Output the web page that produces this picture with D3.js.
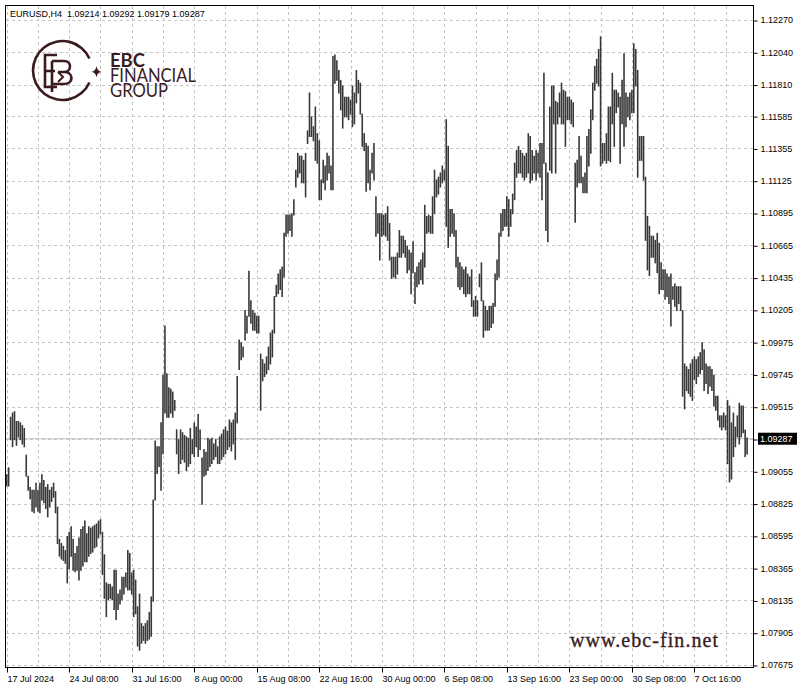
<!DOCTYPE html>
<html>
<head>
<meta charset="utf-8">
<script src="https://cdn.jsdelivr.net/npm/d3@7"></script>
<style>
  html, body { margin: 0; padding: 0; background: #fff; }
  svg { display: block; }
</style>
</head>
<body>
<svg id="chart" width="800" height="688"></svg>
<script>
// ---------------- DATA ----------------
const symbolTitle = "EURUSD,H4";
const lastOHLC = ["1.09214", "1.09292", "1.09179", "1.09287"];
const lastPrice = 1.09287;

const timeLabels = ["17 Jul 2024", "24 Jul 08:00", "31 Jul 16:00", "8 Aug 00:00", "15 Aug 08:00",
  "22 Aug 16:00", "30 Aug 00:00", "6 Sep 08:00", "13 Sep 16:00", "23 Sep 00:00", "30 Sep 08:00", "7 Oct 16:00"];
const timeLabelBars = [0, 32, 64, 96, 128, 160, 192, 224, 256, 288, 320, 352];

const priceTicks = [1.12270, 1.12040, 1.11810, 1.11585, 1.11355, 1.11125, 1.10895, 1.10665, 1.10435,
  1.10205, 1.09975, 1.09745, 1.09515, 1.09285, 1.09055, 1.08825, 1.08595, 1.08365, 1.08135, 1.07905, 1.07675];

const logoLines = ["EBC", "FINANCIAL", "GROUP"];
const watermark = "www.ebc-fin.net";

// H4 bar highs and lows (one per bar, left to right)
const highs = [
1.0903,1.0908,1.0944,1.0947,1.0948,1.0941,1.0941,1.0940,1.0938,1.0936,
1.0917,1.0902,1.0894,1.0892,1.0892,1.0897,1.0892,1.0897,1.0903,1.0899,
1.0894,1.0896,1.0892,1.0894,1.0897,1.0891,1.0880,1.0857,1.0854,1.0852,
1.0849,1.0859,1.0862,1.0866,1.0857,1.0847,1.0852,1.0858,1.0864,1.0866,
1.0870,1.0861,1.0866,1.0865,1.0866,1.0867,1.0868,1.0870,1.0871,1.0862,
1.0846,1.0826,1.0825,1.0825,1.0823,1.0835,1.0835,1.0818,1.0821,1.0830,
1.0830,1.0833,1.0849,1.0847,1.0833,1.0835,1.0828,1.0809,1.0818,1.0797,
1.0795,1.0797,1.0799,1.0805,1.0816,1.0885,1.0927,1.0923,1.0923,1.0940,
1.0974,1.1009,1.0975,1.0965,1.0964,1.0962,1.0956,1.0935,1.0928,1.0935,
1.0933,1.0931,1.0930,1.0929,1.0936,1.0928,1.0940,1.0937,1.0946,1.0935,
1.0915,1.0921,1.0919,1.0929,1.0928,1.0929,1.0925,1.0928,1.0923,1.0930,
1.0932,1.0935,1.0937,1.0934,1.0942,1.0940,1.0942,1.0947,1.0973,1.0999,
1.0997,1.0994,1.1020,1.1016,1.1048,1.1027,1.1020,1.1018,1.1016,1.1016,
1.0989,1.0985,1.0982,1.0987,1.0994,1.1004,1.1006,1.1030,1.1038,1.1046,
1.1049,1.1051,1.1075,1.1088,1.1088,1.1088,1.1089,1.1099,1.1120,1.1132,
1.1130,1.1130,1.1127,1.1132,1.1148,1.1175,1.1158,1.1151,1.1165,1.1146,
1.1141,1.1113,1.1127,1.1123,1.1132,1.1130,1.1123,1.1201,1.1202,1.1198,
1.1191,1.1184,1.1180,1.1172,1.1172,1.1172,1.1170,1.1180,1.1175,1.1191,
1.1184,1.1182,1.1160,1.1146,1.1139,1.1137,1.1120,1.1132,1.1139,1.1101,
1.1089,1.1089,1.1089,1.1088,1.1089,1.1094,1.1082,1.1058,1.1058,1.1058,
1.1061,1.1077,1.1073,1.1073,1.1070,1.1066,1.1063,1.1061,1.1069,1.1047,
1.1051,1.1054,1.1056,1.1061,1.1095,1.1087,1.1088,1.1087,1.1101,1.1120,
1.1113,1.1115,1.1118,1.1123,1.1120,1.1156,1.1137,1.1092,1.1092,1.1089,
1.1077,1.1058,1.1054,1.1051,1.1049,1.1051,1.1046,1.1044,1.1049,1.1027,
1.1030,1.1027,1.1046,1.1054,1.1027,1.1023,1.1020,1.1023,1.1023,1.1025,
1.1046,1.1056,1.1075,1.1089,1.1092,1.1092,1.1101,1.1099,1.1092,1.1103,
1.1125,1.1134,1.1137,1.1134,1.1132,1.1130,1.1132,1.1146,1.1144,1.1134,
1.1130,1.1134,1.1132,1.1139,1.1139,1.1189,1.1125,1.1118,1.1165,1.1180,
1.1180,1.1169,1.1168,1.1175,1.1182,1.1177,1.1176,1.1172,1.1172,1.1170,
1.1168,1.1125,1.1127,1.1144,1.1130,1.1115,1.1118,1.1144,1.1149,1.1163,
1.1182,1.1194,1.1199,1.1206,1.1215,1.1139,1.1139,1.1146,1.1165,1.1165,
1.1189,1.1177,1.1177,1.1175,1.1172,1.1184,1.1203,1.1175,1.1172,1.1175,
1.1177,1.1210,1.1206,1.1191,1.1144,1.1144,1.1144,1.1115,1.1087,1.1080,
1.1073,1.1073,1.1070,1.1075,1.1068,1.1054,1.1049,1.1049,1.1046,1.1044,
1.1046,1.1037,1.1039,1.1037,1.1037,1.1037,1.1020,1.0982,1.0980,1.0978,
1.0982,1.0985,1.0987,1.0985,1.0987,1.0990,1.0997,1.0992,1.0982,1.0980,
1.0980,1.0978,1.0974,1.0959,1.0959,1.0945,1.0945,1.0947,1.0945,1.0956,
1.0952,1.0940,1.0947,1.0937,1.0945,1.0954,1.0952,1.0952,1.0935,1.09292
];
const lows = [
1.0895,1.0895,1.0928,1.0923,1.0928,1.0924,1.0930,1.0928,1.0925,1.0923,
1.0902,1.0892,1.0886,1.0877,1.0876,1.0880,1.0877,1.0876,1.0885,1.0883,
1.0879,1.0873,1.0880,1.0884,1.0887,1.0876,1.0854,1.0845,1.0843,1.0842,
1.0840,1.0826,1.0836,1.0845,1.0835,1.0834,1.0835,1.0828,1.0835,1.0838,
1.0841,1.0841,1.0845,1.0847,1.0848,1.0851,1.0852,1.0858,1.0861,1.0832,
1.0815,1.0802,1.0814,1.0815,1.0814,1.0807,1.0800,1.0807,1.0811,1.0814,
1.0818,1.0823,1.0821,1.0821,1.0818,1.0802,1.0804,1.0781,1.0778,1.0783,
1.0785,1.0783,1.0785,1.0786,1.0788,1.0813,1.0885,1.0904,1.0909,1.0892,
1.0918,1.0947,1.0944,1.0944,1.0947,1.0944,1.0949,1.0918,1.0904,1.0911,
1.0914,1.0912,1.0906,1.0909,1.0911,1.0918,1.0916,1.0923,1.0916,1.0921,
1.0882,1.0902,1.0903,1.0906,1.0909,1.0911,1.0914,1.0916,1.0911,1.0911,
1.0914,1.0916,1.0918,1.0921,1.0923,1.0920,1.0925,1.0914,1.0940,1.0978,
1.0985,1.0987,1.0999,1.1004,1.1016,1.1011,1.1006,1.1006,1.1004,1.1004,
1.0949,1.0970,1.0973,1.0975,1.0978,1.0982,1.0987,1.1004,1.1030,1.1032,
1.1035,1.1030,1.1044,1.1073,1.1075,1.1077,1.1073,1.1088,1.1108,1.1115,
1.1118,1.1111,1.1111,1.1101,1.1139,1.1144,1.1144,1.1141,1.1127,1.1125,
1.1099,1.1099,1.1111,1.1106,1.1113,1.1118,1.1106,1.1106,1.1182,1.1184,
1.1175,1.1163,1.1150,1.1158,1.1158,1.1156,1.1160,1.1151,1.1153,1.1168,
1.1175,1.1160,1.1137,1.1134,1.1105,1.1111,1.1106,1.1118,1.1113,1.1073,
1.1075,1.1056,1.1073,1.1074,1.1073,1.1070,1.1056,1.1043,1.1044,1.1043,
1.1046,1.1058,1.1058,1.1061,1.1058,1.1047,1.1049,1.1032,1.1047,1.1025,
1.1037,1.1039,1.1042,1.1039,1.1051,1.1075,1.1076,1.1075,1.1075,1.1089,
1.1101,1.1103,1.1108,1.1111,1.1113,1.1080,1.1065,1.1073,1.1075,1.1073,
1.1051,1.1037,1.1035,1.1037,1.1032,1.1030,1.1032,1.1032,1.1023,1.1016,
1.1016,1.1016,1.1037,1.1027,1.1001,1.1006,1.1006,1.1006,1.1008,1.1011,
1.1023,1.1042,1.1044,1.1073,1.1077,1.1080,1.1080,1.1073,1.1080,1.1089,
1.1099,1.1115,1.1118,1.1118,1.1115,1.1113,1.1115,1.1118,1.1111,1.1113,
1.1118,1.1113,1.1118,1.1115,1.1099,1.1125,1.1077,1.1069,1.1120,1.1118,
1.1153,1.1118,1.1153,1.1158,1.1153,1.1153,1.1137,1.1156,1.1156,1.1153,
1.1151,1.1083,1.1108,1.1111,1.1111,1.1104,1.1104,1.1104,1.1123,1.1132,
1.1156,1.1177,1.1182,1.1180,1.1123,1.1125,1.1127,1.1125,1.1127,1.1126,
1.1153,1.1137,1.1161,1.1165,1.1125,1.1153,1.1137,1.1151,1.1158,1.1156,
1.1161,1.1161,1.1180,1.1115,1.1127,1.1127,1.1113,1.1070,1.1049,1.1045,
1.1058,1.1058,1.1054,1.1047,1.1032,1.1035,1.1035,1.1028,1.1030,1.1025,
1.1009,1.1028,1.1023,1.1020,1.1025,1.1020,1.0959,1.0950,1.0963,1.0961,
1.0959,1.0956,1.0971,1.0968,1.0973,1.0975,1.0978,1.0963,1.0968,1.0961,
1.0966,1.0963,1.0952,1.0949,1.0942,1.0937,1.0935,1.0937,1.0935,1.0911,
1.0898,1.0900,1.0916,1.0923,1.0930,1.0925,1.0930,1.0933,1.0916,1.09179
];

// ---------------- LAYOUT ----------------
const frame = { left: 5, top: 5, right: 753, bottom: 667 };
const ink = "#000";
const brand = "#3b1c1e";
const sans = "'Liberation Sans', Arial, sans-serif";

const svg = d3.select("#chart");
svg.append("rect").attr("width", 800).attr("height", 688).attr("fill", "#fff");

const x = d3.scaleLinear().domain([0, highs.length - 1]).range([6.7, 747.1]);
const y = d3.scaleLinear().domain([1.07675, 1.12270]).range([665, 20]);

// grid
const grid = svg.append("g").attr("stroke", "#c6c6c6").attr("stroke-dasharray", "3,3").attr("stroke-width", 1);
grid.selectAll("line.h").data(priceTicks).join("line")
  .attr("x1", frame.left + 1).attr("x2", frame.right)
  .attr("y1", d => Math.round(y(d)) + 0.5).attr("y2", d => Math.round(y(d)) + 0.5);
const vBars = d3.range(0, highs.length, 16);
grid.selectAll("line.v").data(vBars).join("line")
  .attr("y1", frame.top + 1).attr("y2", frame.bottom)
  .attr("x1", d => Math.round(x(d)) + 0.5).attr("x2", d => Math.round(x(d)) + 0.5);

// current price line
svg.append("line")
  .attr("x1", frame.left + 1).attr("x2", frame.right)
  .attr("y1", y(lastPrice)).attr("y2", y(lastPrice))
  .attr("stroke", "#c0c0c0").attr("stroke-width", 1);

// ---------------- LOGO ----------------
const logo = svg.append("g").attr("fill", "none").attr("stroke", brand).attr("stroke-width", 2.6);
const cx = 62.5, cy = 70.5, r = 29.5;
const arc = d3.arc().innerRadius(r - 1.3).outerRadius(r + 1.3)
  .startAngle(Math.PI / 2 + 0.42).endAngle(Math.PI / 2 + 2 * Math.PI - 0.42);
svg.append("path").attr("d", arc()).attr("transform", `translate(${cx},${cy})`).attr("fill", brand);
logo.append("path").attr("d", "M57,55 H45 V87 H57 M45,71 H55");
logo.append("path").attr("d", "M52,61 V92 M52,61 H64 C72,61 72,72 64,72 H58 M64,72 C74,72 74,84 64,84 H52");
logo.append("path").attr("d", "M58,72 L63,77 L58,82").attr("stroke-width", 2);
svg.append("path")
  .attr("d", "M96.5,66 Q97.2,71 101.5,71.8 Q97.2,72.6 96.5,77.6 Q95.8,72.6 91.5,71.8 Q95.8,71 96.5,66 Z")
  .attr("fill", brand);
const logoText = svg.append("text").attr("fill", brand)
  .style("font-family", "Lato, 'Open Sans', sans-serif").style("font-size", "18.5px");
const logoWidths = [35, 86, 58];
logoText.selectAll("tspan").data(logoLines).join("tspan")
  .attr("x", 110).attr("y", (d, i) => 66.7 + i * 15)
  .style("font-weight", (d, i) => i === 0 ? 700 : 400)
  .attr("textLength", (d, i) => logoWidths[i]).attr("lengthAdjust", "spacingAndGlyphs")
  .text(d => d);

// ---------------- BARS ----------------
const bars = highs.map((h, i) => ({ i, h, l: lows[i] }));
svg.append("g").selectAll("line").data(bars).join("line")
  .attr("x1", d => x(d.i)).attr("x2", d => x(d.i))
  .attr("y1", d => y(d.h) - 0.5).attr("y2", d => Math.max(y(d.l), y(d.h) + 1) + 0.5)
  .attr("stroke", "#383838").attr("stroke-width", 1.6);

// watermark
svg.append("text").attr("x", 570).attr("y", 647).text(watermark)
  .style("font-family", "'Liberation Serif', 'Times New Roman', serif")
  .style("font-size", "20px").attr("fill", brand)
  .attr("stroke", brand).attr("stroke-width", 0.35)
  .attr("textLength", 148).attr("lengthAdjust", "spacing");

// ---------------- FRAME & AXES ----------------
svg.append("rect")
  .attr("x", frame.left + 0.5).attr("y", frame.top + 0.5)
  .attr("width", frame.right - frame.left).attr("height", frame.bottom - frame.top)
  .attr("fill", "none").attr("stroke", ink).attr("stroke-width", 1);

const yAxis = d3.axisRight(y).tickValues(priceTicks).tickSize(4).tickPadding(3)
  .tickFormat(d => Math.abs(d - 1.09285) < 1e-7 ? "" : d.toFixed(5));
const gy = svg.append("g").attr("transform", `translate(${frame.right + 0.5},0)`).call(yAxis);
gy.select(".domain").remove();
gy.selectAll(".tick line").attr("stroke", ink).attr("transform", "translate(0,0.5)");
gy.selectAll(".tick text").attr("fill", ink)
  .style("font-family", sans).style("font-size", "9px");

const xAxis = d3.axisBottom(x).tickValues(timeLabelBars).tickSize(5).tickPadding(3)
  .tickFormat((d, i) => timeLabels[i]);
const gx = svg.append("g").attr("transform", `translate(0,${frame.bottom + 0.5})`).call(xAxis);
gx.select(".domain").remove();
gx.selectAll(".tick").attr("transform", d => `translate(${Math.round(x(d)) + 0.5},0)`);
gx.selectAll(".tick line").attr("stroke", ink);
gx.selectAll(".tick text").attr("fill", ink).attr("text-anchor", "start").attr("x", 0)
  .style("font-family", sans).style("font-size", "9px");

// current price tag
const py = y(lastPrice);
svg.append("rect").attr("x", 758).attr("y", py - 6).attr("width", 39).attr("height", 12).attr("fill", "#000");
svg.append("text").attr("x", 760).attr("y", py + 3.3).text(lastPrice.toFixed(5))
  .style("font-family", sans).style("font-size", "9px").attr("fill", "#fff");

// title
svg.append("text").attr("x", 10).attr("y", 17)
  .text(symbolTitle + "\u00a0\u00a0" + lastOHLC.join(" "))
  .style("font-family", sans).style("font-size", "9px").attr("fill", ink);
</script>
</body>
</html>
